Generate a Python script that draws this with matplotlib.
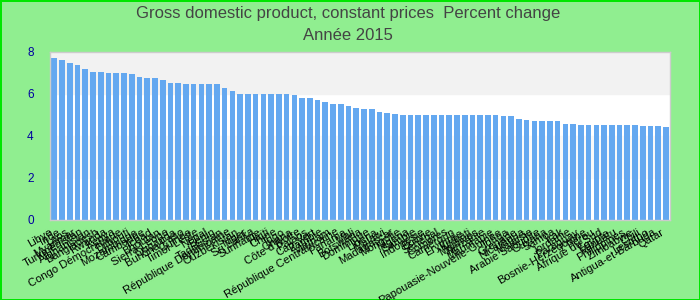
import matplotlib
matplotlib.use("Agg")
import matplotlib.pyplot as plt
import numpy as np

plt.rcParams["font.family"] = ["Liberation Sans", "DejaVu Sans"]

title = "Gross domestic product, constant prices  Percent change"
subtitle = "Année 2015"

countries = [
    "Libye", "Inde", "Laos", "Myanmar", "Turkménistan", "Afghanistan", "Bangladesh", "Rwanda", "Kenya", "Congo Démocratique",
    "Djibouti", "Mozambique", "Cambodge", "Tchad", "Bhoutan", "Sierra Leone", "Ouganda", "Burkina Faso", "Guinée", "Timor-Leste",
    "Népal", "Bénin", "Tadjikistan", "République Dominicaine", "Ouzbékistan", "Niger", "Sri Lanka", "Suriname", "Haïti", "Chine",
    "Togo", "Ghana", "Côte d'Ivoire", "Palaos", "Cap-Vert", "Zambie", "Vietnam", "République Centrafricaine", "Panama", "Mali",
    "Botswana", "Dominique", "Libéria", "Malawi", "Madagascar", "Mongolie", "Nigeria", "Gambie", "Indonésie", "Bolivie",
    "Sénégal", "Comores", "Cameroun", "Érythrée", "Kiribati", "Maldives", "Tanzanie", "Mauritanie", "Papouasie-Nouvelle-Guinée", "Tonga",
    "Grenade", "Nicaragua", "Malaisie", "Arabie Saoudite", "Guyana", "Samoa", "Irak", "Jordanie", "Paraguay", "Bosnie-Herzégovine",
    "Pérou", "Afrique du Sud", "Égypte", "Vanuatu", "Philippines", "Zimbabwe", "Chili", "Lesotho", "Antigua-et-Barbuda", "Qatar",
]

growth = [
    7.7, 7.6, 7.45, 7.35, 7.15, 7.05, 7.05, 7.0, 7.0, 7.0,
    6.95, 6.8, 6.75, 6.75, 6.65, 6.5, 6.5, 6.45, 6.45, 6.45,
    6.45, 6.45, 6.25, 6.15, 6.0, 6.0, 6.0, 6.0, 6.0, 6.0,
    6.0, 5.95, 5.8, 5.8, 5.7, 5.6, 5.5, 5.5, 5.4, 5.3,
    5.25, 5.25, 5.15, 5.1, 5.05, 5.0, 5.0, 5.0, 5.0, 5.0,
    5.0, 5.0, 5.0, 5.0, 5.0, 5.0, 5.0, 5.0, 4.95, 4.95,
    4.8, 4.75, 4.7, 4.7, 4.7, 4.7, 4.55, 4.55, 4.5, 4.5,
    4.5, 4.5, 4.5, 4.5, 4.5, 4.5, 4.45, 4.45, 4.45, 4.4,
]

yticks = [0, 2, 4, 6, 8]

fig = plt.figure(figsize=(7, 3), dpi=100, facecolor="#90ee90",
                 edgecolor="#00e600", linewidth=2)
ax = fig.add_axes([0.072, 0.267, 0.885, 0.561])
ax.set_facecolor("white")

# alternating bands
ax.axhspan(2, 4, color="#f8f8f8", zorder=0)
ax.axhspan(6, 8, color="#f2f2f2", zorder=0)

x = np.arange(len(countries))
ax.bar(x, growth, width=0.73, color="#64a8f0", zorder=2)

ax.set_xlim(-0.5, len(countries) - 0.5)
ax.set_ylim(0, 8)
ax.set_yticks(yticks)
ax.set_yticklabels([str(v) for v in yticks], color="#0000a0", fontsize=8.5)
ax.set_xticks(x)
ax.set_xticklabels(countries, rotation=30, ha="right", fontsize=8, color="black")
ax.tick_params(axis="both", length=0)
ax.tick_params(axis="y", pad=12)
ax.tick_params(axis="x", pad=5)

for s in ax.spines.values():
    s.set_color("#cccccc")
    s.set_linewidth(1)

fig.text(0.497, 0.955, title, ha="center", va="center", fontsize=12, color="#444444")
fig.text(0.497, 0.882, subtitle, ha="center", va="center", fontsize=12, color="#444444")

fig.savefig("out.png", dpi=100, facecolor=fig.get_facecolor(), edgecolor=fig.get_edgecolor())
